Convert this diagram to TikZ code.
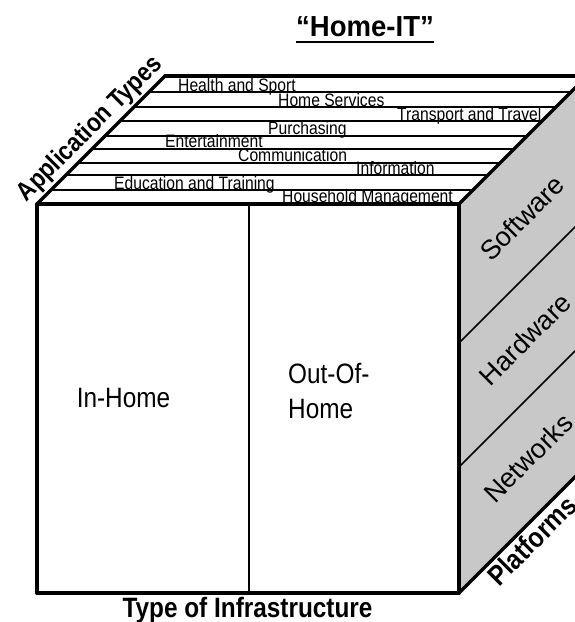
\documentclass[tikz,border=0pt]{standalone}
\usepackage{fontspec}
\setmainfont{Liberation Sans}
\usepackage{graphicx}
\usetikzlibrary{calc}
\definecolor{sidegray}{RGB}{200,200,200}
% narrow set, close to a condensed sans
\newcommand{\cond}[1]{\scalebox{0.87}[1]{#1}}

\begin{document}
\begin{tikzpicture}[x=1pt,y=-1pt,
  edgeheavy/.style={line width=4pt, line cap=round, line join=round},
  edgemid/.style={line width=3.2pt, line cap=round},
  gridline/.style={line width=1.6pt},
  splitline/.style={line width=2pt},
  toplabel/.style={anchor=base west, inner sep=0pt, font=\fontsize{18}{20}\selectfont},
  facelabel/.style={inner sep=0pt, font=\fontsize{28}{35}\selectfont},
  sidelabel/.style={inner sep=0pt, rotate=45, font=\fontsize{27}{30}\selectfont},
  axislabel/.style={inner sep=0pt, font=\bfseries\fontsize{26}{28}\selectfont},
]
\useasboundingbox (0,0) rectangle (575,622);
\clip (0,0) rectangle (575,622);

% cube corners
\coordinate (FTL) at (37,204);
\coordinate (FTR) at (459,204);
\coordinate (FBL) at (37,593);
\coordinate (FBR) at (459,593);
\coordinate (BTL) at (165,76);
\coordinate (BTR) at (587,76);
\coordinate (BBR) at (587,465);

% right face: platforms
\fill[sidegray] (FTR) -- (BTR) -- (BBR) -- (FBR) -- cycle;
\draw[gridline] (459,343) -- ++(128,-128);
\draw[gridline] (459,467) -- ++(128,-128);
\node[sidelabel] (software) at (522,218) {Software};
\node[sidelabel] (hardware) at (525,339) {Hardware};
\node[sidelabel] (networks) at (528,458) {Networks};

% top face: application types
\foreach \yy in {92,107,121,136,149,163,175,190}
  \draw[gridline] ({241-\yy},\yy) -- ({663-\yy},\yy);

\node[toplabel] (health)      at (178,91)    {\cond{Health and Sport}};
\node[toplabel] (homeserv)    at (278,106)   {\cond{Home Services}};
\node[toplabel] (transport)   at (397,120)   {\cond{Transport and Travel}};
\node[toplabel] (purchasing)  at (268,134.5) {\cond{Purchasing}};
\node[toplabel] (entertain)   at (165,147.5) {\cond{Entertainment}};
\node[toplabel] (communic)    at (238,161.5) {\cond{Communication}};
\node[toplabel] (information) at (356,174)   {\cond{Information}};
\node[toplabel] (education)   at (114,189)   {\cond{Education and Training}};
\node[toplabel] (household)   at (282,202)   {\cond{Household Management}};

% outline of the top face and the right face
\draw[edgeheavy] (BTL) -- (BTR);
\draw[edgemid] (FTL) -- (BTL);
\draw[edgemid] (FTR) -- (BTR);
\draw[edgemid] (FBR) -- (BBR);

% front face: type of infrastructure
\draw[splitline] (249,204) -- (249,593);
\draw[edgeheavy] (FTL) rectangle (FBR);

\node[facelabel, anchor=base] (inhome) at (123.5,407) {\cond{In-Home}};
% a multi-line node takes its base from the last line
\node[facelabel, anchor=base west, align=left] (outhome) at (288,418) {\cond{Out-Of-}\\\cond{Home}};

% axis names
\path (FTL) -- (BTL) node[axislabel, midway, sloped, above=3pt] (apptypes) {\cond{Application Types}};
\path (FBR) -- (BBR) node[axislabel, pos=0.49, sloped, below=4pt, font=\bfseries\fontsize{28}{30}\selectfont] (platforms) {\cond{Platforms}};
\node[axislabel, anchor=base, font=\bfseries\fontsize{28}{30}\selectfont] (infra) at (247.5,617) {\cond{Type of Infrastructure}};

% title
\node[inner sep=0pt, anchor=base, font=\bfseries\fontsize{29}{32}\selectfont] (title) at (365,36) {\scalebox{0.95}[1]{“Home-IT”}};
\draw[line width=2.6pt] ($(title.base west)+(0,6)$) -- ($(title.base east)+(0,6)$);
\end{tikzpicture}
\end{document}
